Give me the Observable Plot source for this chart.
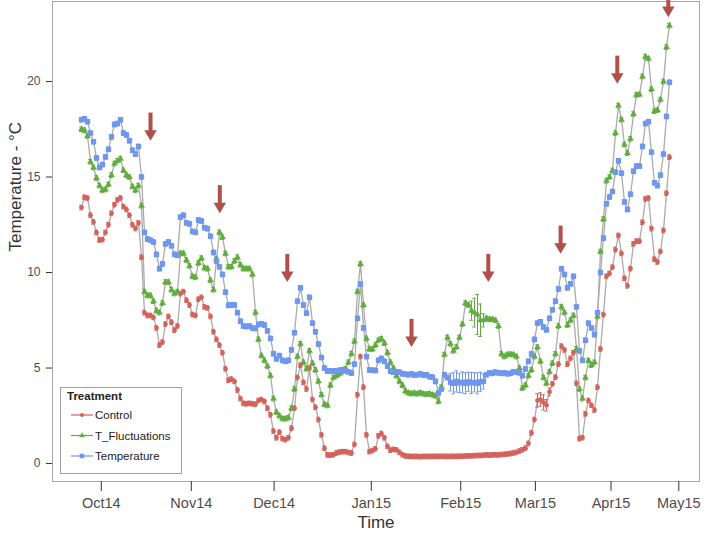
<!DOCTYPE html>
<html><head><meta charset="utf-8">
<script src="https://cdn.jsdelivr.net/npm/d3@7"></script>
<script src="https://cdn.jsdelivr.net/npm/@observablehq/plot@0.6"></script>
<style>
body{margin:0;background:#fff;}
#wrap{position:relative;width:709px;height:534px;font-family:"Liberation Sans",Arial,sans-serif;}
#legend{position:absolute;left:60px;top:387px;}
</style></head><body><div id="wrap"></div>
<script>
// Sample index axis (observations in time order); month labels at their sample positions
const monthTicks = [6.6, 36.6, 64.2, 96.6, 126.4, 151.3, 176.5, 199.1];
const monthLabels = ["Oct14","Nov14","Dec14","Jan15","Feb15","Mar15","Apr15","May15"];
const yTicks = [0, 5, 10, 15, 20];

const treatments = ["Control", "T_Fluctuations", "Temperature"];
const colors = ["#d4625b", "#60ad3e", "#6f97ee"];

const controlTemp = [
13.4,13.94,13.9,13.0,12.65,12.1,11.7,11.72,12.1,12.5,
13.1,13.55,13.8,13.9,13.45,13.3,13.0,12.5,12.3,12.6,
10.8,7.9,7.75,7.75,7.65,7.1,6.2,6.35,7.3,7.7,
7.4,6.98,7.2,8.9,9.0,8.55,8.3,7.8,7.75,8.6,
8.7,8.2,8.15,7.7,6.9,6.5,6.2,5.8,4.96,4.36,
4.42,4.3,3.85,3.4,3.15,3.13,3.15,3.13,3.1,3.3,
3.35,3.25,2.9,2.55,1.7,1.35,1.64,1.3,1.25,1.35,
1.85,2.9,4.5,5.15,4.25,3.9,5.0,3.35,2.95,2.3,
1.5,0.8,0.45,0.44,0.46,0.55,0.6,0.62,0.62,0.58,
0.55,1.0,3.6,5.6,4.0,1.5,0.62,0.68,0.77,1.45,
1.57,1.35,0.9,0.7,0.74,0.72,0.58,0.46,0.4,0.38,
0.37,0.37,0.37,0.36,0.37,0.37,0.37,0.37,0.37,0.37,
0.38,0.37,0.37,0.37,0.38,0.37,0.38,0.38,0.39,0.4,
0.4,0.41,0.42,0.42,0.43,0.45,0.44,0.45,0.46,0.45,
0.47,0.48,0.5,0.52,0.55,0.58,0.65,0.72,0.8,1.05,
1.6,2.3,3.3,3.35,3.2,3.05,3.75,4.17,4.52,5.2,
6.15,5.95,5.2,5.5,5.8,4.2,1.3,1.35,2.6,3.3,
3.05,2.8,4.0,6.0,7.8,9.8,9.95,10.28,11.2,11.94,
11.0,9.7,9.3,10.2,11.5,11.64,11.64,12.63,13.85,13.9,
12.3,10.7,10.55,11.1,12.2,14.15,16.04];

const fluctTemp = [
17.5,17.45,17.15,15.8,15.5,14.95,14.55,14.3,14.35,14.6,
15.1,15.7,15.85,15.95,15.35,15.1,15.0,14.5,14.3,14.55,
13.5,9.0,8.8,8.8,8.5,8.0,7.9,8.4,9.5,9.5,
9.1,8.9,9.0,11.0,11.0,10.65,10.35,9.8,9.75,10.5,
10.75,10.25,10.2,9.6,9.1,10.7,12.1,11.85,11.0,10.3,
10.3,10.6,10.8,10.4,10.2,10.2,10.2,9.9,7.9,6.5,
5.65,5.4,5.1,4.6,3.4,2.69,2.5,2.35,2.34,2.4,
2.9,3.9,5.6,6.27,5.3,4.96,5.9,5.25,4.9,4.3,
3.6,3.1,3.04,4.1,4.5,4.6,4.7,4.8,4.95,5.3,
5.75,6.4,9.0,10.45,8.3,6.55,6.0,5.98,6.2,6.45,
6.53,6.3,5.8,5.3,5.0,4.6,4.3,4.1,3.8,3.7,
3.66,3.68,3.65,3.7,3.65,3.62,3.65,3.6,3.55,3.25,
4.0,5.7,6.6,6.27,5.9,6.1,6.6,7.3,8.4,8.3,
8.0,7.9,7.8,7.5,7.5,7.6,7.55,7.55,7.5,7.2,
5.74,5.6,5.7,5.72,5.7,5.6,5.0,3.95,4.1,4.6,
4.9,5.6,6.1,5.35,4.5,4.2,4.8,5.25,5.74,7.2,
8.2,7.9,7.25,7.5,7.75,6.0,3.9,3.4,4.5,5.39,
5.15,5.3,7.7,11.1,12.8,14.8,15.0,15.34,17.3,18.74,
18.0,16.7,16.25,17.0,18.3,19.3,19.32,20.26,21.3,21.2,
19.6,18.45,18.5,19.05,20.0,21.8,22.93];

const tempTemp = [
18.0,18.05,17.9,17.3,16.85,16.0,15.5,15.65,16.05,16.45,
17.1,17.75,17.8,18.0,17.3,17.2,16.9,16.4,16.2,16.6,
15.0,12.1,11.75,11.7,11.6,10.95,10.2,10.45,11.5,11.6,
11.4,10.95,10.9,12.9,13.0,12.6,12.55,12.15,12.1,12.75,
12.7,12.35,12.3,11.9,11.05,10.6,10.3,9.9,8.97,8.28,
8.3,8.3,7.9,7.45,7.2,7.17,7.2,7.1,7.07,7.28,
7.32,7.25,6.95,6.55,5.75,5.48,5.65,5.4,5.35,5.4,
5.95,6.85,8.5,9.2,8.3,7.87,8.7,7.35,6.9,6.25,
5.55,5.0,4.84,4.84,4.84,4.85,4.88,4.9,4.88,4.8,
4.73,5.2,7.6,9.4,7.1,5.6,4.9,4.88,4.87,5.4,
5.5,5.35,5.1,4.83,4.78,4.8,4.78,4.7,4.68,4.65,
4.7,4.62,4.65,4.7,4.62,4.65,4.55,4.52,4.3,3.7,
3.9,4.65,4.5,4.25,4.2,4.3,4.22,4.25,4.2,4.28,
4.22,4.25,4.2,4.28,4.3,4.65,4.75,4.72,4.78,4.75,
4.72,4.75,4.7,4.72,4.8,4.78,4.75,4.6,4.95,5.35,
5.74,6.5,7.35,7.42,7.15,7.0,7.6,8.05,8.5,9.14,
10.2,9.9,9.2,9.4,9.8,8.2,5.9,5.4,6.45,7.35,
7.1,6.75,7.9,10.0,11.8,13.6,13.95,14.24,15.25,15.85,
15.2,13.7,13.3,14.1,15.3,15.57,15.57,16.6,17.8,17.9,
16.3,14.7,14.55,15.1,16.2,18.17,19.96];

// standard errors: small everywhere, wider on a few samples
const seDefault = 0.12;
const controlWideFrom = 152, controlWideSE = [0.35,0.35,0.4,0.3,0.2];
const fluctWideFrom = 130, fluctWideSE = [0.5,0.75,1.05,0.85,0.35];
const tempWideFrom = 123, tempWideSE = [0.45,0.55,0.55,0.5,0.55,0.55,0.5,0.55,0.5,0.55,0.5,0.4];

// heat-wave arrows (sample index and temperature at arrow tip)
const arrowIndex = [23, 46.1, 68.6, 110, 135.6, 159.7, 178.6, 195.6];
const arrowTip = [16.9, 13.1, 9.5, 6.1, 9.5, 10.98, 19.88, 23.37];
const arrowColor = "#b0504b";

const seriesValues = [controlTemp, fluctTemp, tempTemp];
const wide = [[controlWideFrom, controlWideSE],[fluctWideFrom, fluctWideSE],[tempWideFrom, tempWideSE]];
const symbols = ["circle", "triangle", "square"];
const radii = [2.4, 2.5, 3.0];

const series = seriesValues.map((vals, s) => vals.map((v, k) => {
  const [from, arr] = wide[s];
  const se = (k >= from && k < from + arr.length) ? arr[k - from] : seDefault;
  return {k, v, se, lo: v - se, hi: v + se};
}));

const downArrowHead = {
  draw(ctx, size) {
    const r = Math.sqrt(size / Math.PI);
    const w = 2.6 * r, h = 2.2 * r;
    ctx.moveTo(-w / 2, -h); ctx.lineTo(w / 2, -h); ctx.lineTo(0, 0); ctx.closePath();
  }
};
const arrows = arrowIndex.map((k, i) => ({k, tip: arrowTip[i]}));

const marks = [Plot.frame({stroke: "#a8a8a8"})];
series.forEach((rows) => marks.push(Plot.line(rows, {x: "k", y: "v", stroke: "#ababab", strokeWidth: 1.3})));
series.forEach((rows, s) => {
  marks.push(Plot.ruleX(rows, {x: "k", y1: "lo", y2: "hi", stroke: colors[s], strokeWidth: 1}));
  marks.push(Plot.ruleY(rows, {y: "lo", x1: d => d.k - 0.6, x2: d => d.k + 0.6, stroke: colors[s], strokeWidth: 1}));
  marks.push(Plot.ruleY(rows, {y: "hi", x1: d => d.k - 0.6, x2: d => d.k + 0.6, stroke: colors[s], strokeWidth: 1}));
});
series.forEach((rows, s) => marks.push(Plot.dot(rows, {x: "k", y: "v", symbol: symbols[s], r: radii[s], fill: colors[s], stroke: "none"})));
marks.push(Plot.ruleX(arrows, {x: "k", y1: d => d.tip + 0.45, y2: d => d.tip + 1.45, stroke: arrowColor, strokeWidth: 4}));
marks.push(Plot.dot(arrows, {x: "k", y: "tip", symbol: downArrowHead, r: 4.8, fill: arrowColor, stroke: "none"}));
marks.push(Plot.axisX({ticks: monthTicks, tickFormat: d => monthLabels[monthTicks.indexOf(d)], tickSize: 10, tickPadding: 6, fontSize: 14.5, stroke: "#333", fill: "#4d4d4d", label: null}));
marks.push(Plot.axisY({ticks: yTicks, tickSize: 6, tickPadding: 6, fontSize: 12, stroke: "#333", fill: "#4d4d4d", label: null}));
marks.push(Plot.text(["Time"], {frameAnchor: "bottom", dy: 46, fontSize: 17, fill: "#333"}));
marks.push(Plot.text(["Temperature - °C"], {frameAnchor: "left", dx: -37, dy: 10, rotate: -90, fontSize: 17, fill: "#333"}));

const chart = Plot.plot({
  width: 709, height: 534,
  marginLeft: 52, marginRight: 10, marginTop: 1, marginBottom: 53,
  x: {domain: [-9.67, 206]},
  y: {domain: [-0.94, 24.19]},
  style: {fontFamily: "'Liberation Sans', Arial, sans-serif", background: "#fff"},
  marks
});
const wrap = document.getElementById("wrap");
wrap.appendChild(chart);

// legend drawn inside the panel (bottom-left)
const lg = d3.select(wrap).append("svg").attr("id", "legend").attr("width", 122).attr("height", 87)
  .style("font-family", "'Liberation Sans', Arial, sans-serif");
lg.append("rect").attr("x", 0.5).attr("y", 0.5).attr("width", 121).attr("height", 86).attr("fill", "#fff").attr("stroke", "#a0a0a0");
lg.append("text").attr("x", 7).attr("y", 13).attr("font-size", 11.5).attr("font-weight", "bold").attr("fill", "#222").text("Treatment");
treatments.forEach((t, i) => {
  const cy = 28 + i * 20.5;
  lg.append("line").attr("x1", 11).attr("x2", 33).attr("y1", cy).attr("y2", cy).attr("stroke", colors[i]).attr("stroke-width", 1.2);
  const sym = [d3.symbolCircle, d3.symbolTriangle, d3.symbolSquare][i];
  lg.append("path").attr("d", d3.symbol(sym, Math.PI * radii[i] * radii[i] * 0.7)()).attr("transform", `translate(22,${cy})`).attr("fill", colors[i]);
  lg.append("text").attr("x", 35).attr("y", cy).attr("dy", "0.35em").attr("font-size", 11.5).attr("fill", "#222").text(t);
});
</script></body></html>
